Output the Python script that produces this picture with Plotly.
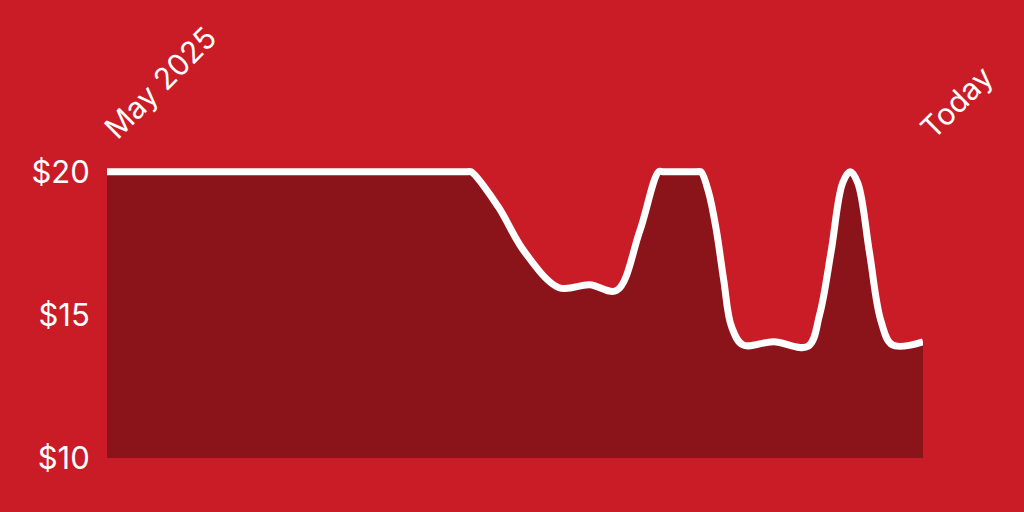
import plotly.graph_objects as go

# --- データ ---
dates = [
    "2025-05-01", "2025-07-01", "2025-08-03", "2025-08-04",
    "2025-08-11", "2025-08-18", "2025-08-27", "2025-09-04", "2025-09-11",
    "2025-09-17", "2025-09-22", "2025-09-23", "2025-10-02", "2025-10-03",
    "2025-10-05", "2025-10-07", "2025-10-09", "2025-10-11", "2025-10-14",
    "2025-10-22", "2025-10-31", "2025-11-03", "2025-11-06", "2025-11-09",
    "2025-11-11", "2025-11-13", "2025-11-16", "2025-11-19", "2025-11-22",
    "2025-11-30",
]
prices = [
    20.0, 20.0, 20.0, 20.0,
    18.8, 17.2, 15.95, 16.05, 15.85,
    17.9, 20.0, 20.0, 20.0, 20.0,
    19.3, 18.0, 16.2, 14.6, 13.95,
    14.06, 13.9, 15.0, 17.2, 19.6,
    20.0, 19.6, 17.2, 14.8, 13.95,
    14.06,
]
y_ticks = [10, 15, 20]
y_labels = ["$10", "$15", "$20"]
x_labels = ["May 2025", "Today"]

BG = "#C91C26"
FILL = "#8B141B"

fig = go.Figure()

# 価格ライン（下側を塗りつぶし）
fig.add_trace(
    go.Scatter(
        x=dates,
        y=prices,
        mode="lines",
        line={"color": "white", "width": 7, "shape": "spline", "smoothing": 1.0},
        fill="tozeroy",
        fillcolor=FILL,
        hoverinfo="skip",
    )
)

fig.update_layout(
    width=1024,
    height=512,
    paper_bgcolor=BG,
    plot_bgcolor=BG,
    showlegend=False,
    margin={"l": 107, "r": 101, "t": 166, "b": 54},
    font={"family": "Inter", "color": "white", "size": 30},
    xaxis={
        "side": "top",
        "range": [dates[0], dates[-1]],
        "tickvals": [dates[0], dates[-1]],
        "ticktext": x_labels,
        "tickangle": -45,
        "showgrid": False,
        "zeroline": False,
        "showline": False,
        "ticks": "outside",
        "ticklen": 8,
        "tickcolor": "rgba(0,0,0,0)",
    },
    yaxis={
        "range": [10, 20.2],
        "tickvals": y_ticks,
        "ticktext": y_labels,
        "tickfont": {"size": 31},
        "showgrid": False,
        "zeroline": False,
        "showline": False,
        "ticks": "outside",
        "ticklen": 10,
        "tickcolor": "rgba(0,0,0,0)",
    },
)

# ページ余白を消して背景色を全面に
fig.write_html(
    "out.html",
    config={"displayModeBar": False},
    post_script="document.body.style.margin='0';",
)
